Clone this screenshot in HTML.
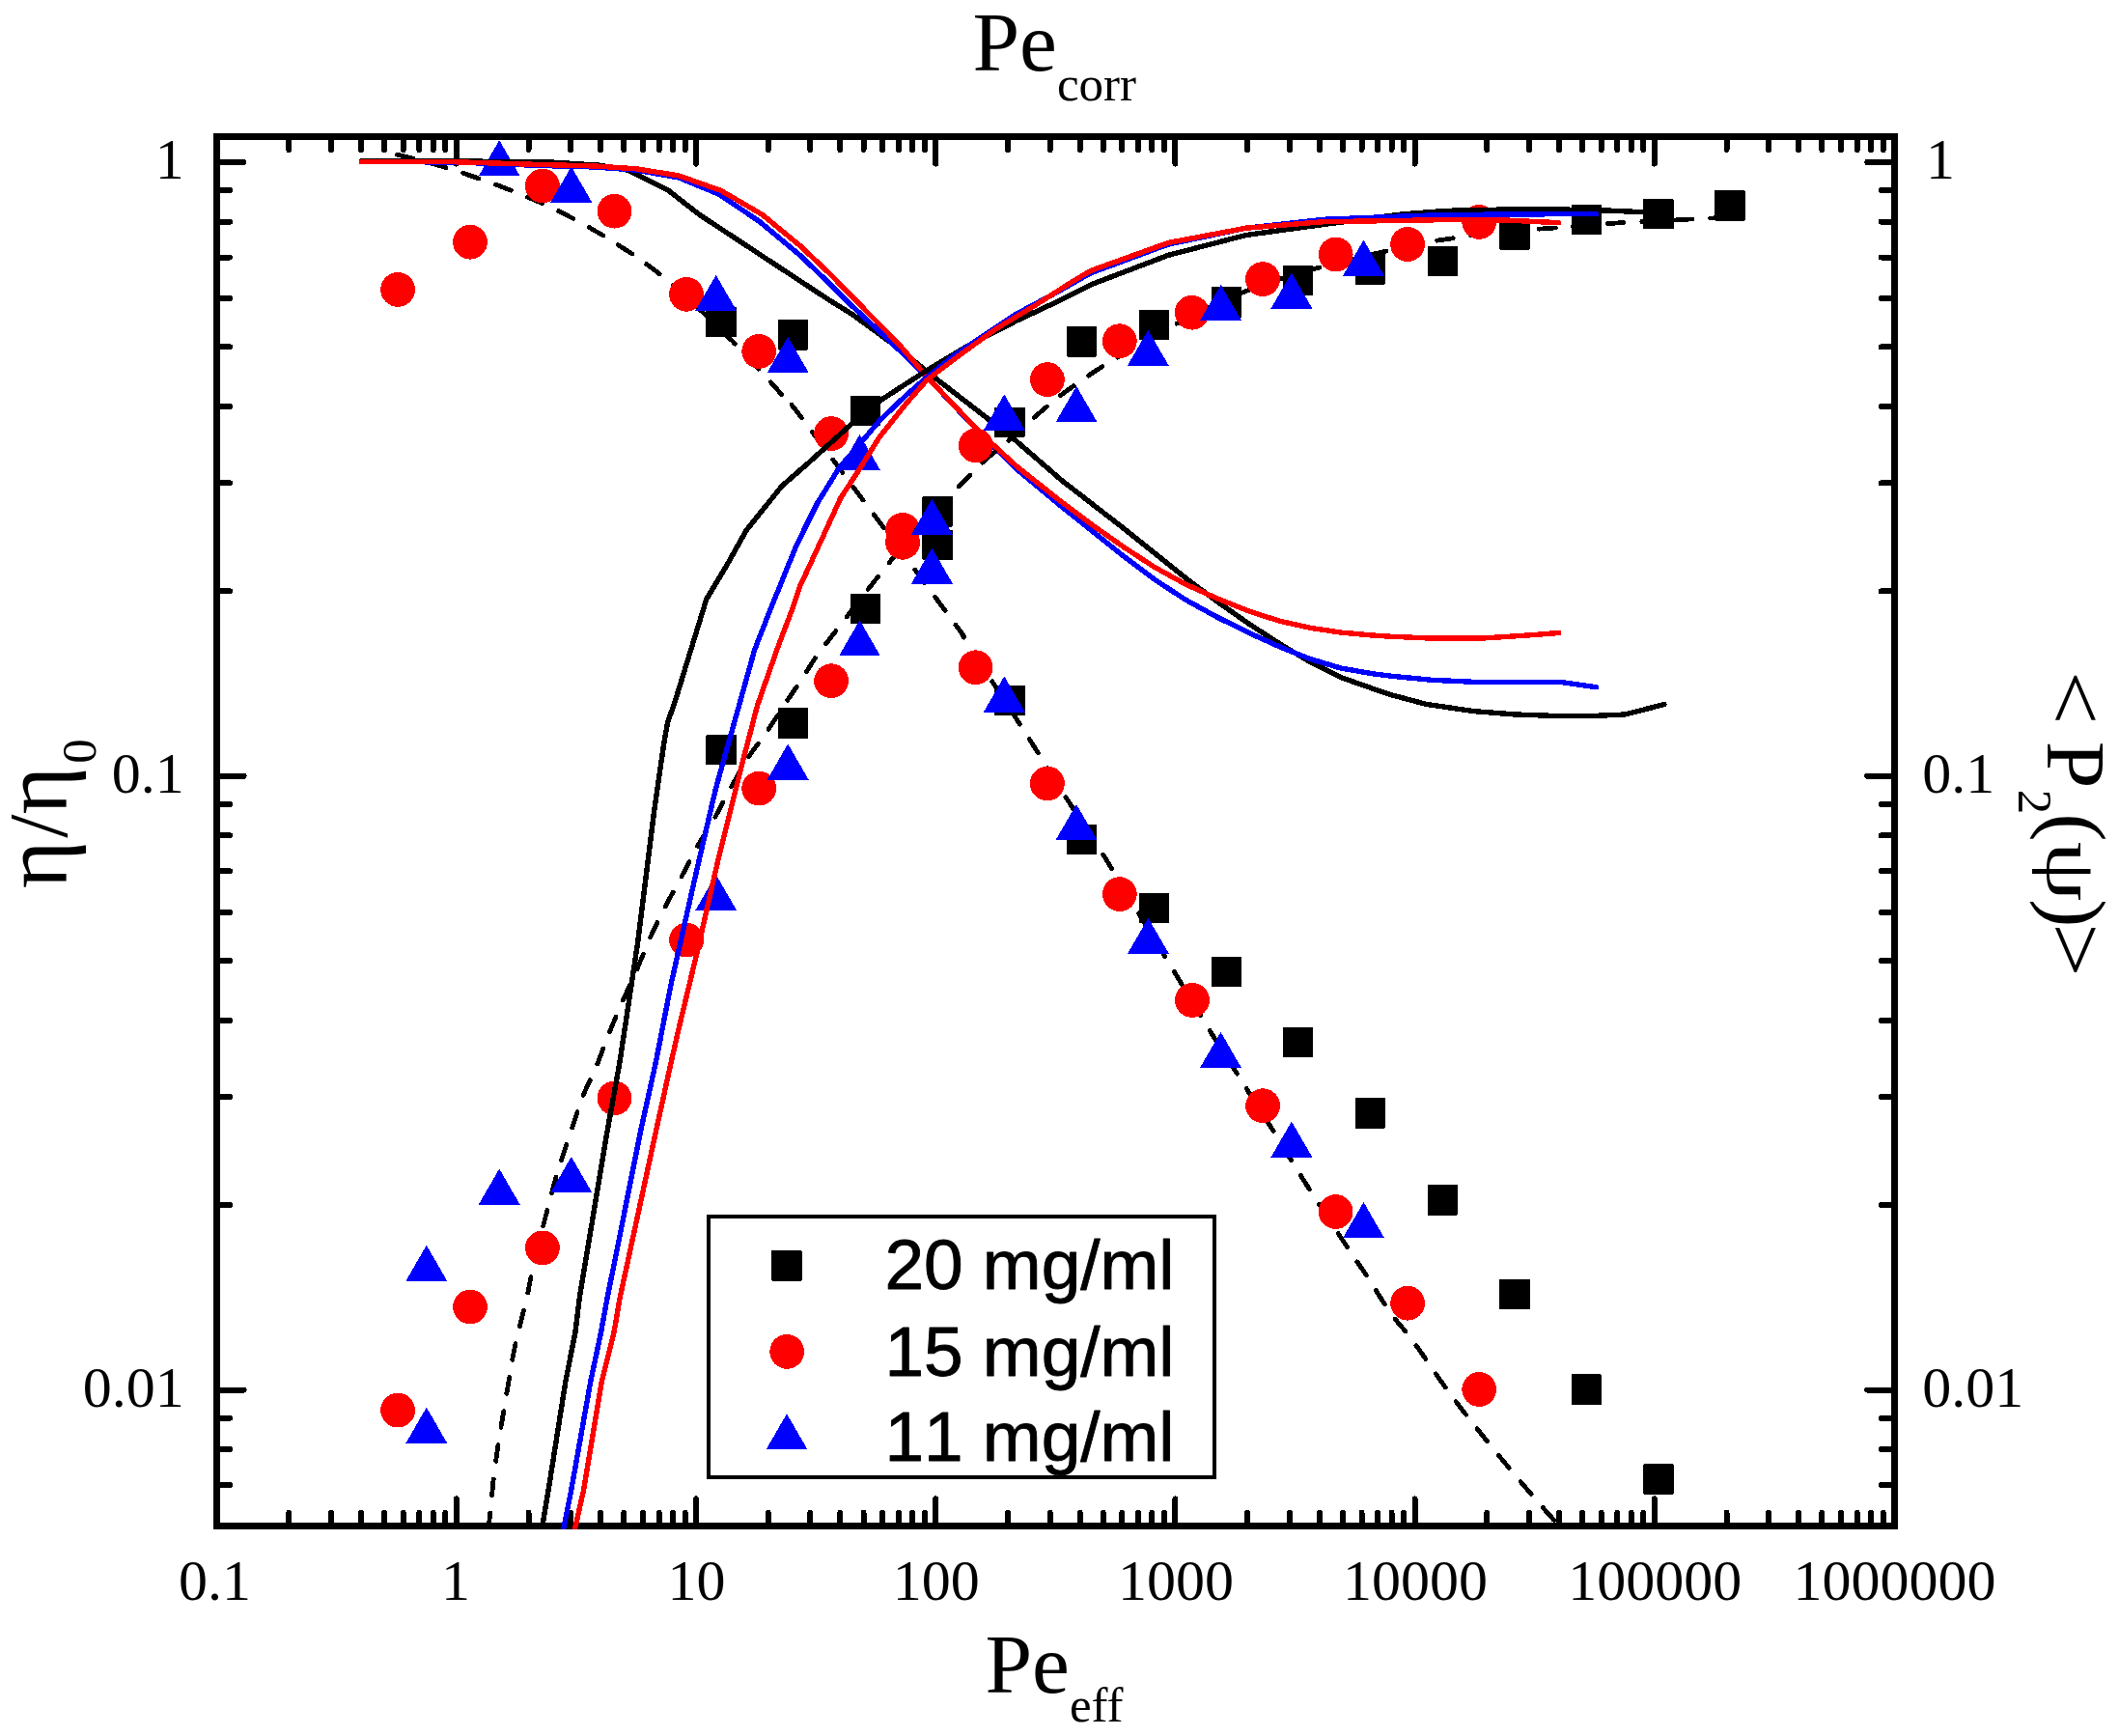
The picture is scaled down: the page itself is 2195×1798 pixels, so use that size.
<!DOCTYPE html>
<html><head><meta charset="utf-8"><title>Pe plot</title>
<style>html,body{margin:0;padding:0;background:#fff}svg{display:block}</style></head>
<body>
<svg width="2195" height="1798" viewBox="0 0 2195 1798" shape-rendering="crispEdges">
<rect width="2195" height="1798" fill="#fff"/>
<defs><clipPath id="cp"><rect x="221.35" y="138.35" width="1744.2" height="1445.3000000000002"/></clipPath></defs>
<rect x="224.6" y="141.6" width="1737.7" height="1438.8000000000002" fill="none" stroke="#000" stroke-width="6.5"/>
<g stroke="#000" stroke-width="6.0" stroke-linecap="round">
<path d="M299.3,141.6 v13.5 M299.3,1580.4 v-13.5"/>
<path d="M343.0,141.6 v13.5 M343.0,1580.4 v-13.5"/>
<path d="M374.0,141.6 v13.5 M374.0,1580.4 v-13.5"/>
<path d="M398.1,141.6 v13.5 M398.1,1580.4 v-13.5"/>
<path d="M417.7,141.6 v13.5 M417.7,1580.4 v-13.5"/>
<path d="M434.4,141.6 v13.5 M434.4,1580.4 v-13.5"/>
<path d="M448.7,141.6 v13.5 M448.7,1580.4 v-13.5"/>
<path d="M461.4,141.6 v13.5 M461.4,1580.4 v-13.5"/>
<path d="M472.8,141.6 v28.0 M472.8,1580.4 v-28.0"/>
<path d="M547.5,141.6 v13.5 M547.5,1580.4 v-13.5"/>
<path d="M591.2,141.6 v13.5 M591.2,1580.4 v-13.5"/>
<path d="M622.2,141.6 v13.5 M622.2,1580.4 v-13.5"/>
<path d="M646.3,141.6 v13.5 M646.3,1580.4 v-13.5"/>
<path d="M665.9,141.6 v13.5 M665.9,1580.4 v-13.5"/>
<path d="M682.6,141.6 v13.5 M682.6,1580.4 v-13.5"/>
<path d="M696.9,141.6 v13.5 M696.9,1580.4 v-13.5"/>
<path d="M709.6,141.6 v13.5 M709.6,1580.4 v-13.5"/>
<path d="M721.0,141.6 v28.0 M721.0,1580.4 v-28.0"/>
<path d="M795.7,141.6 v13.5 M795.7,1580.4 v-13.5"/>
<path d="M839.4,141.6 v13.5 M839.4,1580.4 v-13.5"/>
<path d="M870.4,141.6 v13.5 M870.4,1580.4 v-13.5"/>
<path d="M894.5,141.6 v13.5 M894.5,1580.4 v-13.5"/>
<path d="M914.1,141.6 v13.5 M914.1,1580.4 v-13.5"/>
<path d="M930.8,141.6 v13.5 M930.8,1580.4 v-13.5"/>
<path d="M945.1,141.6 v13.5 M945.1,1580.4 v-13.5"/>
<path d="M957.8,141.6 v13.5 M957.8,1580.4 v-13.5"/>
<path d="M969.2,141.6 v28.0 M969.2,1580.4 v-28.0"/>
<path d="M1043.9,141.6 v13.5 M1043.9,1580.4 v-13.5"/>
<path d="M1087.6,141.6 v13.5 M1087.6,1580.4 v-13.5"/>
<path d="M1118.6,141.6 v13.5 M1118.6,1580.4 v-13.5"/>
<path d="M1142.7,141.6 v13.5 M1142.7,1580.4 v-13.5"/>
<path d="M1162.3,141.6 v13.5 M1162.3,1580.4 v-13.5"/>
<path d="M1179.0,141.6 v13.5 M1179.0,1580.4 v-13.5"/>
<path d="M1193.3,141.6 v13.5 M1193.3,1580.4 v-13.5"/>
<path d="M1206.0,141.6 v13.5 M1206.0,1580.4 v-13.5"/>
<path d="M1217.4,141.6 v28.0 M1217.4,1580.4 v-28.0"/>
<path d="M1292.1,141.6 v13.5 M1292.1,1580.4 v-13.5"/>
<path d="M1335.8,141.6 v13.5 M1335.8,1580.4 v-13.5"/>
<path d="M1366.8,141.6 v13.5 M1366.8,1580.4 v-13.5"/>
<path d="M1390.9,141.6 v13.5 M1390.9,1580.4 v-13.5"/>
<path d="M1410.5,141.6 v13.5 M1410.5,1580.4 v-13.5"/>
<path d="M1427.2,141.6 v13.5 M1427.2,1580.4 v-13.5"/>
<path d="M1441.5,141.6 v13.5 M1441.5,1580.4 v-13.5"/>
<path d="M1454.2,141.6 v13.5 M1454.2,1580.4 v-13.5"/>
<path d="M1465.6,141.6 v28.0 M1465.6,1580.4 v-28.0"/>
<path d="M1540.3,141.6 v13.5 M1540.3,1580.4 v-13.5"/>
<path d="M1584.0,141.6 v13.5 M1584.0,1580.4 v-13.5"/>
<path d="M1615.0,141.6 v13.5 M1615.0,1580.4 v-13.5"/>
<path d="M1639.1,141.6 v13.5 M1639.1,1580.4 v-13.5"/>
<path d="M1658.7,141.6 v13.5 M1658.7,1580.4 v-13.5"/>
<path d="M1675.4,141.6 v13.5 M1675.4,1580.4 v-13.5"/>
<path d="M1689.7,141.6 v13.5 M1689.7,1580.4 v-13.5"/>
<path d="M1702.4,141.6 v13.5 M1702.4,1580.4 v-13.5"/>
<path d="M1713.8,141.6 v28.0 M1713.8,1580.4 v-28.0"/>
<path d="M1788.5,141.6 v13.5 M1788.5,1580.4 v-13.5"/>
<path d="M1832.2,141.6 v13.5 M1832.2,1580.4 v-13.5"/>
<path d="M1863.2,141.6 v13.5 M1863.2,1580.4 v-13.5"/>
<path d="M1887.3,141.6 v13.5 M1887.3,1580.4 v-13.5"/>
<path d="M1906.9,141.6 v13.5 M1906.9,1580.4 v-13.5"/>
<path d="M1923.6,141.6 v13.5 M1923.6,1580.4 v-13.5"/>
<path d="M1937.9,141.6 v13.5 M1937.9,1580.4 v-13.5"/>
<path d="M1950.6,141.6 v13.5 M1950.6,1580.4 v-13.5"/>
<path d="M224.6,1538.1 h13.5 M1962.3,1538.1 h-13.5"/>
<path d="M224.6,1501.2 h13.5 M1962.3,1501.2 h-13.5"/>
<path d="M224.6,1468.7 h13.5 M1962.3,1468.7 h-13.5"/>
<path d="M224.6,1439.6 h28.0 M1962.3,1439.6 h-28.0"/>
<path d="M224.6,1248.2 h13.5 M1962.3,1248.2 h-13.5"/>
<path d="M224.6,1136.2 h13.5 M1962.3,1136.2 h-13.5"/>
<path d="M224.6,1056.8 h13.5 M1962.3,1056.8 h-13.5"/>
<path d="M224.6,995.2 h13.5 M1962.3,995.2 h-13.5"/>
<path d="M224.6,944.9 h13.5 M1962.3,944.9 h-13.5"/>
<path d="M224.6,902.3 h13.5 M1962.3,902.3 h-13.5"/>
<path d="M224.6,865.4 h13.5 M1962.3,865.4 h-13.5"/>
<path d="M224.6,832.9 h13.5 M1962.3,832.9 h-13.5"/>
<path d="M224.6,803.8 h28.0 M1962.3,803.8 h-28.0"/>
<path d="M224.6,612.4 h13.5 M1962.3,612.4 h-13.5"/>
<path d="M224.6,500.4 h13.5 M1962.3,500.4 h-13.5"/>
<path d="M224.6,421.0 h13.5 M1962.3,421.0 h-13.5"/>
<path d="M224.6,359.4 h13.5 M1962.3,359.4 h-13.5"/>
<path d="M224.6,309.1 h13.5 M1962.3,309.1 h-13.5"/>
<path d="M224.6,266.5 h13.5 M1962.3,266.5 h-13.5"/>
<path d="M224.6,229.6 h13.5 M1962.3,229.6 h-13.5"/>
<path d="M224.6,197.1 h13.5 M1962.3,197.1 h-13.5"/>
<path d="M224.6,168.0 h28.0 M1962.3,168.0 h-28.0"/>
</g>
<g clip-path="url(#cp)">
<path d="M411.5,160.2 C418.9,162.1 438.0,166.3 456.0,171.8 C474.0,177.3 498.8,185.5 519.5,193.4 C540.2,201.3 559.8,209.2 580.0,219.3 C600.2,229.4 621.8,241.8 640.5,253.8 C659.2,265.8 672.6,274.7 692.3,291.3 C712.0,307.9 738.9,333.5 758.6,353.2 C778.3,372.9 798.5,396.2 810.4,409.4 C822.3,422.6 801.3,394.4 830.0,432.4 C858.7,470.4 953.8,598.0 982.6,637.2 C1011.4,676.4 988.9,646.0 1002.8,667.4 C1016.7,688.8 1049.2,738.8 1066.2,765.4 C1083.2,792.0 1092.3,807.4 1105.0,827.3 C1117.7,847.2 1130.0,865.0 1142.5,884.9 C1155.0,904.8 1167.8,926.6 1180.0,946.8 C1192.2,967.0 1203.8,985.7 1216.0,1005.9 C1228.2,1026.1 1241.4,1048.4 1253.4,1067.8 C1265.4,1087.2 1277.5,1105.8 1288.0,1122.5 C1298.5,1139.2 1306.2,1150.8 1316.7,1167.7 C1327.2,1184.6 1338.3,1203.4 1351.3,1223.8 C1364.3,1244.2 1383.7,1273.8 1394.5,1290.1 C1405.3,1306.4 1408.4,1310.3 1416.0,1321.8 C1423.6,1333.3 1432.0,1347.9 1440.0,1359.2 C1448.0,1370.5 1453.6,1375.3 1464.0,1389.4 C1474.4,1403.5 1489.0,1426.0 1502.3,1443.9 C1515.6,1461.8 1529.8,1479.6 1543.7,1496.7 C1557.6,1513.8 1574.0,1533.3 1585.4,1546.7 C1596.8,1560.1 1606.6,1570.8 1612.0,1577.0 C1617.4,1583.2 1617.0,1582.8 1618.0,1584.0" fill="none" stroke="#000" stroke-width="4.8" stroke-linecap="round" stroke-dasharray="17 18.5"/>
<rect x="731.4" y="318.0" width="31.4" height="31.4" rx="1" fill="#000"/>
<rect x="806.0" y="331.1" width="31.4" height="31.4" rx="1" fill="#000"/>
<rect x="880.5" y="409.5" width="31.4" height="31.4" rx="1" fill="#000"/>
<rect x="955.4" y="548.6" width="31.4" height="31.4" rx="1" fill="#000"/>
<rect x="1030.3" y="709.9" width="31.4" height="31.4" rx="1" fill="#000"/>
<rect x="1104.8" y="853.9" width="31.4" height="31.4" rx="1" fill="#000"/>
<rect x="1179.7" y="924.6" width="31.4" height="31.4" rx="1" fill="#000"/>
<rect x="1254.8" y="990.7" width="31.4" height="31.4" rx="1" fill="#000"/>
<rect x="1328.8" y="1063.7" width="31.4" height="31.4" rx="1" fill="#000"/>
<rect x="1403.7" y="1137.2" width="31.4" height="31.4" rx="1" fill="#000"/>
<rect x="1478.7" y="1227.2" width="31.4" height="31.4" rx="1" fill="#000"/>
<rect x="1553.3" y="1324.9" width="31.4" height="31.4" rx="1" fill="#000"/>
<rect x="1627.6" y="1423.4" width="31.4" height="31.4" rx="1" fill="#000"/>
<rect x="1702.2" y="1516.3" width="31.4" height="31.4" rx="1" fill="#000"/>
<circle cx="412.1" cy="299.9" r="17.9" fill="#f00"/>
<circle cx="487.0" cy="250.7" r="17.9" fill="#f00"/>
<circle cx="561.9" cy="192.5" r="17.9" fill="#f00"/>
<circle cx="636.5" cy="218.7" r="17.9" fill="#f00"/>
<circle cx="711.1" cy="304.8" r="17.9" fill="#f00"/>
<circle cx="786.2" cy="363.9" r="17.9" fill="#f00"/>
<circle cx="861.1" cy="449.1" r="17.9" fill="#f00"/>
<circle cx="935.1" cy="548.8" r="17.9" fill="#f00"/>
<circle cx="1010.6" cy="691.3" r="17.9" fill="#f00"/>
<circle cx="1084.9" cy="811.5" r="17.9" fill="#f00"/>
<circle cx="1159.8" cy="926.1" r="17.9" fill="#f00"/>
<circle cx="1235.0" cy="1035.9" r="17.9" fill="#f00"/>
<circle cx="1308.1" cy="1145.2" r="17.9" fill="#f00"/>
<circle cx="1383.6" cy="1255.0" r="17.9" fill="#f00"/>
<circle cx="1458.1" cy="1349.7" r="17.9" fill="#f00"/>
<circle cx="1532.2" cy="1439.0" r="17.9" fill="#f00"/>
<path d="M517.2,145.2 L538.7,182.4 L495.7,182.4Z" fill="#00f"/>
<path d="M591.8,172.5 L613.3,209.7 L570.3,209.7Z" fill="#00f"/>
<path d="M741.7,284.8 L763.2,322.0 L720.2,322.0Z" fill="#00f"/>
<path d="M816.2,348.8 L837.7,386.0 L794.7,386.0Z" fill="#00f"/>
<path d="M890.5,450.0 L912.0,487.2 L869.0,487.2Z" fill="#00f"/>
<path d="M965.4,567.4 L986.9,604.6 L943.9,604.6Z" fill="#00f"/>
<path d="M1040.3,700.4 L1061.8,737.6 L1018.8,737.6Z" fill="#00f"/>
<path d="M1115.0,832.9 L1136.5,870.1 L1093.5,870.1Z" fill="#00f"/>
<path d="M1189.4,950.7 L1210.9,987.9 L1167.9,987.9Z" fill="#00f"/>
<path d="M1264.5,1068.8 L1286.0,1106.0 L1243.0,1106.0Z" fill="#00f"/>
<path d="M1337.9,1161.5 L1359.4,1198.7 L1316.4,1198.7Z" fill="#00f"/>
<path d="M1412.5,1245.0 L1434.0,1282.2 L1391.0,1282.2Z" fill="#00f"/>
<g fill="none" stroke-width="5.4" stroke-linejoin="round" stroke-linecap="round">
<path d="M374.5,167.0 L560.0,167.3 L620.9,171.2 L650.7,176.2 L691.8,196.8 L724.4,222.3 L860.0,311.5 L882.5,325.3 L925.0,356.4 L967.5,390.5 L1024.2,434.4 L1049.7,454.2 L1100.0,497.7 L1164.3,547.5 L1228.5,598.9 L1260.7,623.0 L1292.8,645.5 L1325.0,666.4 L1357.1,685.7 L1389.2,701.7 L1421.4,713.0 L1440.0,719.4 L1477.4,729.4 L1526.4,736.6 L1569.6,740.0 L1612.8,741.5 L1656.0,741.2 L1683.4,740.0 L1724.0,729.5" stroke="#000"/>
<path d="M374.5,167.6 L470.0,167.9 L560.0,171.5 L616.7,173.0 L659.2,176.2 L703.1,184.0 L744.2,201.0 L786.7,229.4 L829.2,264.8 L860.0,294.5 L882.5,316.8 L925.0,356.4 L960.4,390.5 L1015.7,449.3 L1052.6,485.4 L1100.0,525.0 L1132.1,550.7 L1164.3,576.4 L1196.4,600.5 L1228.5,621.4 L1260.7,639.1 L1292.8,655.1 L1325.0,669.6 L1357.1,682.5 L1389.2,692.1 L1421.4,697.7 L1440.0,700.1 L1483.2,704.3 L1526.4,706.3 L1615.7,706.3 L1653.5,711.7" stroke="#00f"/>
<path d="M374.5,167.6 L470.0,167.7 L560.0,170.5 L616.7,172.0 L659.2,174.8 L703.1,181.9 L747.0,197.5 L789.6,222.3 L829.2,254.9 L860.0,284.0 L886.8,311.5 L930.7,356.0 L960.4,390.5 L1015.7,448.5 L1052.6,482.6 L1100.0,520.2 L1132.1,544.3 L1164.3,566.8 L1196.4,587.7 L1228.5,605.3 L1260.7,619.8 L1292.8,632.6 L1325.0,643.1 L1357.1,650.3 L1389.2,655.1 L1421.4,658.0 L1440.0,659.2 L1483.2,661.1 L1535.0,661.1 L1584.0,657.9 L1614.6,655.5" stroke="#f00"/>
</g>
<path d="M506.0,1584.0 C506.6,1578.2 508.6,1558.1 509.5,1549.3 C510.4,1540.5 510.2,1539.9 511.3,1531.0 C512.4,1522.1 514.4,1507.5 516.1,1496.0 C517.8,1484.5 519.8,1473.3 521.7,1462.0 C523.6,1450.7 525.4,1439.3 527.4,1428.0 C529.4,1416.7 530.5,1407.9 533.5,1394.0 C536.5,1380.1 542.3,1358.8 545.5,1344.8 C548.7,1330.8 548.6,1327.6 552.7,1310.3 C556.8,1293.0 565.5,1258.4 570.0,1241.1 C574.5,1223.8 576.4,1218.1 580.0,1206.6 C583.6,1195.1 587.7,1183.5 591.5,1172.0 C595.3,1160.5 598.7,1148.5 603.0,1137.4 C607.3,1126.3 613.1,1115.9 617.5,1105.2 C621.9,1094.5 625.2,1084.5 629.6,1073.5 C634.0,1062.5 639.2,1050.0 644.0,1039.0 C648.8,1028.0 653.7,1018.1 658.4,1007.3 C663.1,996.5 667.3,985.2 672.2,974.2 C677.1,963.2 682.5,951.9 688.0,941.1 C693.5,930.3 699.7,920.0 705.3,909.4 C710.9,898.8 716.1,887.7 721.7,877.7 C727.3,867.7 733.2,859.6 739.0,849.5 C744.8,839.4 750.1,828.2 756.3,817.2 C762.4,806.2 769.9,792.8 775.9,783.4 C781.9,774.0 786.2,769.9 792.3,761.0 C798.4,752.1 806.2,739.7 812.5,730.2 C818.8,720.7 824.4,712.5 830.0,704.0 C835.6,695.5 840.3,687.6 846.4,679.0 C852.5,670.4 856.3,665.9 866.6,652.5 C876.9,639.1 894.4,616.3 908.3,598.9 C922.2,581.5 935.3,564.4 950.0,548.0 C964.7,531.6 985.0,512.2 996.5,500.5 C1008.0,488.8 1011.4,484.9 1019.3,477.6 C1027.2,470.4 1035.7,464.2 1044.0,457.0 C1052.3,449.8 1060.3,442.0 1068.9,434.5 C1077.5,427.0 1086.6,419.0 1095.5,412.0 C1104.4,405.0 1113.0,399.0 1122.2,392.7 C1131.4,386.4 1135.4,383.4 1150.6,374.3 C1165.8,365.2 1190.1,350.1 1213.6,337.9 C1237.1,325.7 1266.2,311.3 1291.5,301.2 C1316.8,291.1 1340.9,284.3 1365.4,277.4 C1389.9,270.4 1419.8,263.9 1438.5,259.5 C1457.2,255.1 1458.9,254.1 1477.4,251.0 C1495.9,247.9 1527.3,243.4 1549.4,240.9 C1571.5,238.4 1588.6,237.7 1610.0,236.0 C1631.4,234.3 1655.0,232.2 1677.6,230.8 C1700.1,229.4 1729.0,228.1 1745.3,227.3 C1761.6,226.5 1767.5,226.2 1775.5,225.9 C1783.5,225.6 1790.1,225.4 1793.0,225.3" fill="none" stroke="#000" stroke-width="4.8" stroke-linecap="round" stroke-dasharray="17 18.5"/>
<rect x="731.4" y="761.0" width="31.4" height="31.4" rx="1" fill="#000"/>
<rect x="806.0" y="733.3" width="31.4" height="31.4" rx="1" fill="#000"/>
<rect x="880.5" y="614.8" width="31.4" height="31.4" rx="1" fill="#000"/>
<rect x="955.4" y="514.1" width="31.4" height="31.4" rx="1" fill="#000"/>
<rect x="1030.3" y="421.5" width="31.4" height="31.4" rx="1" fill="#000"/>
<rect x="1104.8" y="338.1" width="31.4" height="31.4" rx="1" fill="#000"/>
<rect x="1179.7" y="320.7" width="31.4" height="31.4" rx="1" fill="#000"/>
<rect x="1255.0" y="297.2" width="31.4" height="31.4" rx="1" fill="#000"/>
<rect x="1328.8" y="274.9" width="31.4" height="31.4" rx="1" fill="#000"/>
<rect x="1403.7" y="263.2" width="31.4" height="31.4" rx="1" fill="#000"/>
<rect x="1478.7" y="254.6" width="31.4" height="31.4" rx="1" fill="#000"/>
<rect x="1553.3" y="227.2" width="31.4" height="31.4" rx="1" fill="#000"/>
<rect x="1627.6" y="211.8" width="31.4" height="31.4" rx="1" fill="#000"/>
<rect x="1702.2" y="205.9" width="31.4" height="31.4" rx="1" fill="#000"/>
<rect x="1776.3" y="197.1" width="31.4" height="31.4" rx="1" fill="#000"/>
<circle cx="412.1" cy="1460.6" r="17.9" fill="#f00"/>
<circle cx="487.0" cy="1353.5" r="17.9" fill="#f00"/>
<circle cx="561.9" cy="1292.4" r="17.9" fill="#f00"/>
<circle cx="636.5" cy="1137.4" r="17.9" fill="#f00"/>
<circle cx="711.1" cy="973.6" r="17.9" fill="#f00"/>
<circle cx="786.2" cy="816.6" r="17.9" fill="#f00"/>
<circle cx="861.1" cy="705.2" r="17.9" fill="#f00"/>
<circle cx="935.1" cy="561.8" r="17.9" fill="#f00"/>
<circle cx="1010.7" cy="461.4" r="17.9" fill="#f00"/>
<circle cx="1084.9" cy="393.1" r="17.9" fill="#f00"/>
<circle cx="1159.8" cy="353.2" r="17.9" fill="#f00"/>
<circle cx="1234.7" cy="323.7" r="17.9" fill="#f00"/>
<circle cx="1308.0" cy="289.1" r="17.9" fill="#f00"/>
<circle cx="1383.7" cy="263.5" r="17.9" fill="#f00"/>
<circle cx="1458.1" cy="253.0" r="17.9" fill="#f00"/>
<circle cx="1532.2" cy="229.9" r="17.9" fill="#f00"/>
<path d="M441.8,1289.7 L463.3,1326.9 L420.3,1326.9Z" fill="#00f"/>
<path d="M441.8,1457.6 L463.3,1494.8 L420.3,1494.8Z" fill="#00f"/>
<path d="M517.2,1210.5 L538.7,1247.7 L495.7,1247.7Z" fill="#00f"/>
<path d="M591.8,1198.0 L613.3,1235.2 L570.3,1235.2Z" fill="#00f"/>
<path d="M741.7,905.8 L763.2,943.0 L720.2,943.0Z" fill="#00f"/>
<path d="M816.2,770.4 L837.7,807.6 L794.7,807.6Z" fill="#00f"/>
<path d="M890.5,642.2 L912.0,679.4 L869.0,679.4Z" fill="#00f"/>
<path d="M965.4,516.7 L986.9,553.9 L943.9,553.9Z" fill="#00f"/>
<path d="M1040.3,408.4 L1061.8,445.6 L1018.8,445.6Z" fill="#00f"/>
<path d="M1115.1,400.0 L1136.6,437.2 L1093.6,437.2Z" fill="#00f"/>
<path d="M1189.3,341.7 L1210.8,378.9 L1167.8,378.9Z" fill="#00f"/>
<path d="M1264.6,294.9 L1286.1,332.1 L1243.1,332.1Z" fill="#00f"/>
<path d="M1337.9,282.5 L1359.4,319.7 L1316.4,319.7Z" fill="#00f"/>
<path d="M1412.5,248.5 L1434.0,285.7 L1391.0,285.7Z" fill="#00f"/>
<g fill="none" stroke-width="5.4" stroke-linejoin="round" stroke-linecap="round">
<path d="M561.3,1584.0 L568.0,1544.0 L585.8,1431.2 L595.9,1380.0 L600.2,1344.8 L614.6,1258.4 L629.0,1172.0 L642.0,1100.0 L660.7,975.6 L678.0,837.4 L688.0,768.2 L691.6,748.3 L699.4,726.0 L731.9,620.3 L753.2,584.9 L773.0,549.4 L809.9,503.4 L836.8,480.0 L881.1,440.0 L912.3,414.5 L960.4,383.4 L1003.0,357.9 L1052.6,332.4 L1095.1,312.5 L1130.0,294.8 L1210.3,264.3 L1290.7,243.5 L1371.0,232.5 L1451.4,222.0 L1470.0,220.5 L1500.0,218.3 L1550.0,217.2 L1600.0,217.0 L1650.0,217.4 L1700.0,219.6 L1716.0,220.2" stroke="#000"/>
<path d="M583.6,1584.0 L591.6,1544.0 L611.7,1431.2 L622.5,1380.0 L629.0,1344.8 L646.3,1258.4 L663.5,1172.0 L679.4,1100.0 L695.2,1018.8 L721.2,903.6 L741.3,817.2 L761.5,745.2 L781.6,673.2 L798.9,629.0 L804.2,616.0 L825.5,563.6 L846.7,521.1 L869.4,484.3 L896.7,452.8 L910.9,435.8 L939.2,408.9 L960.4,390.5 L988.8,367.8 L1031.3,339.4 L1052.6,325.3 L1095.1,302.6 L1130.0,282.7 L1210.3,253.0 L1290.7,236.2 L1371.0,227.3 L1470.0,223.3 L1550.0,222.0 L1653.5,221.6" stroke="#00f"/>
<path d="M595.4,1584.0 L604.4,1544.0 L623.2,1431.2 L636.0,1380.0 L642.0,1344.8 L660.7,1258.4 L679.4,1172.0 L695.2,1100.0 L703.9,1062.0 L721.2,990.0 L744.2,889.2 L767.2,797.0 L784.5,730.8 L804.7,673.2 L821.0,630.0 L828.3,608.0 L846.7,568.3 L870.8,515.8 L889.6,487.0 L910.9,452.8 L939.2,417.4 L960.4,393.3 L995.9,366.4 L1031.3,340.9 L1073.8,315.3 L1109.2,292.7 L1130.0,280.3 L1210.3,251.4 L1290.7,236.2 L1371.0,229.7 L1470.0,228.1 L1500.0,227.5 L1560.0,228.0 L1614.5,230.7" stroke="#f00"/>
</g>
</g>
<g font-family="'Liberation Serif',serif" font-size="60" fill="#000">
<text x="222.6" y="1657" text-anchor="middle">0.1</text>
<text x="472.0" y="1657" text-anchor="middle">1</text>
<text x="721.5" y="1657" text-anchor="middle">10</text>
<text x="969.7" y="1657" text-anchor="middle">100</text>
<text x="1217.9" y="1657" text-anchor="middle">1000</text>
<text x="1466.1" y="1657" text-anchor="middle">10000</text>
<text x="1714.3" y="1657" text-anchor="middle">100000</text>
<text x="1962.5" y="1657" text-anchor="middle">1000000</text>
<text x="190.8" y="185.3" text-anchor="end">1</text>
<text x="1994.9" y="185.3">1</text>
<text x="190.8" y="821.1" text-anchor="end">0.1</text>
<text x="1991.3" y="821.1">0.1</text>
<text x="190.8" y="1456.9" text-anchor="end">0.01</text>
<text x="1991.3" y="1456.9">0.01</text>
</g>
<g font-family="'Liberation Serif',serif" font-size="87.5" fill="#000">
<text x="1007.4" y="72.7">Pe<tspan font-size="51" dy="31.5">corr</tspan></text>
<text x="1020.4" y="1752.9">Pe<tspan font-size="51" dy="30.2">eff</tspan></text>
<g transform="translate(68.5,920) rotate(-90)">
<text x="-0.3" y="0" font-size="95">η</text>
<text x="52.2" y="0">/</text>
<text x="76.5" y="0" font-size="95">η</text>
<text x="129.2" y="30.3" font-size="51">0</text>
</g>
<g transform="translate(2121,697) rotate(90)">
<text transform="translate(-2.2,0) scale(1.13,1)">&lt;</text>
<text x="70.8" y="0">P</text>
<text x="120.8" y="30.4" font-size="51">2</text>
<text x="145.6" y="0">(</text>
<text transform="translate(174.7,0) scale(1.123,0.84)">ψ</text>
<text x="234.2" y="0">)</text>
<text transform="translate(259,0) scale(1.13,1)">&gt;</text>
</g>
</g>
<rect x="734" y="1260" width="524" height="270" fill="#fff" stroke="#000" stroke-width="3.8"/>
<rect x="799.3" y="1295.1" width="31.4" height="31.4" rx="1" fill="#000"/>
<circle cx="815.2" cy="1399.9" r="17.9" fill="#f00"/>
<path d="M815.0,1464.2 L836.5,1501.4 L793.5,1501.4Z" fill="#00f"/>
<g font-family="'Liberation Sans',sans-serif" font-size="73" style="font-kerning:none" fill="#000" stroke="#000" stroke-width="0.9" stroke-linejoin="round">
<text x="916.4" y="1335.3">20 mg/ml</text>
<text x="916.4" y="1424.5">15 mg/ml</text>
<text x="916.4" y="1513.1">11 mg/ml</text>
</g>
</svg>
</body></html>
